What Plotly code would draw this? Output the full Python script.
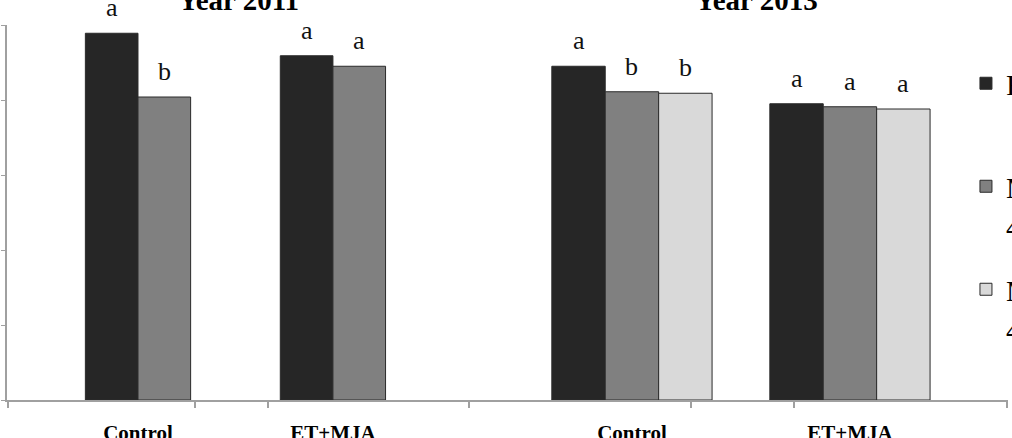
import plotly.graph_objects as go

# ---- data ----
categories = ["Control", "ET+MJA"]
series_names = ["Fresh<br> ", "MAP<br>4 °C", "MAP<br>4 °C + 1-MCP"]
values_2011 = {
    series_names[0]: [4.89, 4.59],
    series_names[1]: [4.04, 4.45],
}
values_2013 = {
    series_names[0]: [4.45, 3.95],
    series_names[1]: [4.11, 3.91],
    series_names[2]: [4.09, 3.88],
}
letters_2011 = {
    series_names[0]: ["a", "a"],
    series_names[1]: ["b", "a"],
}
letters_2013 = {
    series_names[0]: ["a", "a"],
    series_names[1]: ["b", "a"],
    series_names[2]: ["b", "a"],
}
panel_titles = ["Year 2011", "Year 2013"]
y_ticks = [0, 1, 2, 3, 4, 5]

# ---- styles ----
colors = {series_names[0]: "#262626", series_names[1]: "#808080", series_names[2]: "#d9d9d9"}
SERIF = "Liberation Serif, Times New Roman, serif"
AXIS_GRAY = "#a0a0a0"
W11 = 0.27
W13 = 0.245
offsets_2011 = {series_names[0]: -W11, series_names[1]: 0.0}
offsets_2013 = {series_names[0]: -1.5 * W13, series_names[1]: -0.5 * W13, series_names[2]: 0.5 * W13}

fig = go.Figure()
annotations = []

def add_panel(values, letters, offsets, width, xref, yref, show_legend):
    for name, vals in values.items():
        fig.add_trace(go.Bar(
            x=categories, y=vals, name=name,
            width=width, offset=offsets[name],
            marker=dict(color=colors[name], line=dict(color="#2a2a2a", width=1)),
            xaxis=xref, yaxis=yref,
            showlegend=show_legend,
            legendgroup=name,
        ))
        for i, (v, lt) in enumerate(zip(vals, letters[name])):
            annotations.append(dict(
                x=i + offsets[name] + width / 2, y=v, xref=xref, yref=yref,
                text=lt, showarrow=False, yanchor="bottom", yshift=9,
                font=dict(family=SERIF, size=26, color="#111"),
            ))

add_panel(values_2011, letters_2011, offsets_2011, W11, "x", "y", False)
add_panel(values_2013, letters_2013, offsets_2013, W13, "x2", "y2", True)

# invisible helpers so the tick-mark overlay axes are drawn
for xa, ya in (("x3", "y"), ("x4", "y2")):
    fig.add_trace(go.Scatter(x=[None], y=[None], xaxis=xa, yaxis=ya,
                             showlegend=False, hoverinfo="skip", mode="markers"))

for t, xc in zip(panel_titles, [0.2308, 0.749]):
    annotations.append(dict(
        x=xc, y=1.067, xref="paper", yref="paper", text="<b>%s</b>" % t,
        showarrow=False, xanchor="center", yanchor="middle",
        font=dict(family=SERIF, size=29, color="#000"),
    ))

split = 0.4625
cat_axis = dict(
    type="category", showgrid=False, zeroline=False,
    showline=True, linecolor=AXIS_GRAY, linewidth=2,
    ticks="", tickfont=dict(family=SERIF, size=21, color="#000"),
    ticklabelstandoff=13,
)
tick_axis = dict(
    type="linear", showgrid=False, zeroline=False, showline=False,
    ticks="outside", ticklen=7, tickwidth=1.5, tickcolor=AXIS_GRAY,
    showticklabels=False, tickmode="array",
)

fig.update_layout(
    width=1012, height=438,
    margin=dict(l=7, r=4, t=25, b=38, autoexpand=False),
    paper_bgcolor="white", plot_bgcolor="white",
    barmode="overlay",
    xaxis=dict(cat_axis, domain=[0, split], range=[-0.672, 1.703], anchor="y",
               tickprefix="<b>", ticksuffix="</b>"),
    xaxis2=dict(cat_axis, domain=[split, 1], range=[-0.743, 1.725], anchor="y2",
                tickprefix="<b>", ticksuffix="</b>"),
    xaxis3=dict(tick_axis, domain=[0, split], range=[-0.672, 1.703], overlaying="x", anchor="y",
                tickvals=[-0.668, 0.292, 0.667, 1.70]),
    xaxis4=dict(tick_axis, domain=[split, 1], range=[-0.743, 1.725], overlaying="x2", anchor="y2",
                tickvals=[0.271, 0.743, 1.721]),
    yaxis=dict(range=[0, 5], domain=[0, 1], anchor="x", showgrid=False, zeroline=False,
               showline=True, linecolor=AXIS_GRAY, linewidth=2,
               ticks="outside", ticklen=4, tickcolor=AXIS_GRAY,
               tickvals=y_ticks, showticklabels=False),
    yaxis2=dict(range=[0, 5], domain=[0, 1], anchor="x2", visible=False),
    legend=dict(
        x=0.958, xanchor="left", y=0.914, yanchor="top",
        font=dict(family=SERIF, size=30, color="#000"),
        bgcolor="rgba(0,0,0,0)", tracegroupgap=22, valign="top",
    ),
    annotations=annotations,
    showlegend=True,
)

fig.write_html("out.html")
